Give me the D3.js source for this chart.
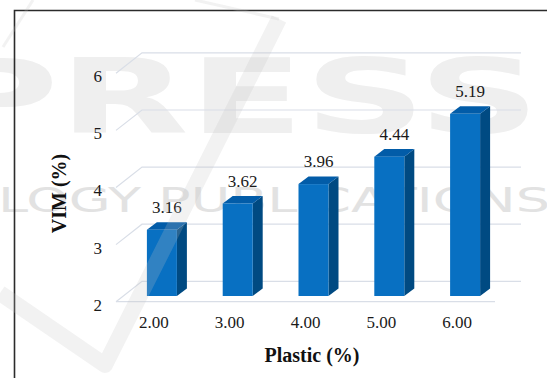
<!DOCTYPE html>
<html>
<head>
<meta charset="utf-8">
<script src="https://cdn.jsdelivr.net/npm/d3@7"></script>
<style>
  html, body { margin: 0; padding: 0; background: #fff; }
  svg { display: block; }
</style>
</head>
<body>
<svg id="chart" width="547" height="378"></svg>
<script>
// VIM (%) against plastic content (%)
const categories = ["2.00", "3.00", "4.00", "5.00", "6.00"];
const vimValues = [3.16, 3.62, 3.96, 4.44, 5.19];
const yTicks = [2, 3, 4, 5, 6];
const xTitle = "Plastic (%)";
const yTitle = "VIM (%)";

const W = 547, H = 378;
const svg = d3.select("#chart");

// floor / wall geometry of the 3-D plot area
const floor = { left: 116, right: 495, front: 301.7, top: 73.3 };
const depth = { dx: 26, dy: -20.4 };          // full depth of the box
const barFront = { dx: 8, dy: -5.7 };         // bars stand a little behind the front edge
const barDepth = { dx: 10, dy: -7.6 };        // depth of each bar
const barWidth = 30;

const x = d3.scaleBand().domain(categories).range([floor.left, floor.right]).padding(0);
const y = d3.scaleLinear().domain([2, 6]).range([floor.front, floor.top]);

const serif = "'Liberation Serif', 'Times New Roman', serif";

// publisher watermark, drawn first and kept faint
const wm = svg.append("g").attr("pointer-events", "none");
wm.append("text")
  .attr("x", -65).attr("y", 133)
  .attr("textLength", 605).attr("lengthAdjust", "spacingAndGlyphs")
  .attr("font-family", "'DejaVu Sans', sans-serif").attr("font-weight", "bold").attr("font-size", 104)
  .attr("fill", "#efefef")
  .text("PRESS");
wm.append("text")
  .attr("x", -2).attr("y", 212)
  .attr("textLength", 552).attr("lengthAdjust", "spacingAndGlyphs")
  .attr("font-family", "'DejaVu Sans', sans-serif").attr("font-size", 34)
  .attr("fill", "#e2e2e2")
  .text("LOGY PUBLICATIONS");

// outer frame
svg.append("path")
  .attr("d", `M14.5,${H + 5} L14.5,10.5 L${W + 5},10.5`)
  .attr("fill", "none").attr("stroke", "#2b2b2b").attr("stroke-width", 1.6);

// gridlines: front edge, diagonal to the back wall, then across the back wall
const grid = svg.append("g").attr("fill", "none").attr("stroke", "#d9dee7").attr("stroke-width", 1.2);
yTicks.forEach(v => {
  const yf = y(v);
  grid.append("path").attr("d",
    `M${floor.left},${yf} L${floor.left + depth.dx},${yf + depth.dy} L${floor.right + depth.dx},${yf + depth.dy}`);
});
grid.append("path").attr("d", `M${floor.left},${y(2)} L${floor.right},${y(2)}`);

// bars as boxes: front, side and top faces
const bars = svg.append("g");
categories.forEach((c, i) => {
  const v = vimValues[i];
  const x0 = x(c) + x.bandwidth() / 2 - barWidth / 2 + barFront.dx;
  const x1 = x0 + barWidth;
  const yT = y(v) + barFront.dy;
  const yB = y(2) + barFront.dy;
  const bx = barDepth.dx, by = barDepth.dy;
  bars.append("path").attr("fill", "#004a82")
    .attr("d", `M${x1},${yT} L${x1 + bx},${yT + by} L${x1 + bx},${yB + by} L${x1},${yB} Z`);
  bars.append("path").attr("fill", "#025ca8")
    .attr("d", `M${x0},${yT} L${x0 + bx},${yT + by} L${x1 + bx},${yT + by} L${x1},${yT} Z`);
  bars.append("rect").attr("fill", "#0870c2")
    .attr("x", x0).attr("y", yT).attr("width", barWidth).attr("height", yB - yT);
  // value label above the bar
  svg.append("text")
    .attr("x", (x0 + x1 + bx) / 2).attr("y", yT + by - 9)
    .attr("text-anchor", "middle")
    .attr("font-family", serif).attr("font-size", 17).attr("fill", "#1a1a1a")
    .text(d3.format(".2f")(v));
});

// y axis labels
const yAxis = svg.append("g")
  .attr("transform", "translate(105,3)")
  .call(d3.axisLeft(y).tickValues(yTicks).tickSize(0).tickPadding(3).tickFormat(d3.format("d")));
yAxis.select(".domain").remove();
yAxis.attr("font-family", serif);
yAxis.selectAll("text").attr("font-family", serif).attr("font-size", 17).attr("fill", "#1a1a1a");

// x axis labels
const xAxis = svg.append("g")
  .attr("transform", `translate(0,${floor.front})`)
  .call(d3.axisBottom(x).tickSize(0).tickPadding(14));
xAxis.select(".domain").remove();
xAxis.attr("font-family", serif);
xAxis.selectAll("text").attr("font-family", serif).attr("font-size", 17).attr("fill", "#1a1a1a");

// axis titles
svg.append("text")
  .attr("transform", "translate(58.5,193.5) rotate(-90)")
  .attr("text-anchor", "middle").attr("dominant-baseline", "central")
  .attr("font-family", serif).attr("font-size", 20).attr("font-weight", "bold").attr("fill", "#111")
  .text(yTitle);
svg.append("text")
  .attr("x", 312).attr("y", 355)
  .attr("text-anchor", "middle").attr("dominant-baseline", "central")
  .attr("font-family", serif).attr("font-size", 20).attr("font-weight", "bold").attr("fill", "#111")
  .text(xTitle);

// watermark check mark, translucent over the bars
const wmStroke = svg.append("g").attr("fill", "none").attr("stroke", "#c4c4c4")
  .attr("stroke-opacity", 0.22).attr("stroke-linejoin", "round").attr("pointer-events", "none");
wmStroke.append("path").attr("d", "M0,293 L105,365 L279,19").attr("stroke-width", 16);
wmStroke.append("path").attr("d", "M195,0 L279,19").attr("stroke-width", 3);
wmStroke.append("path").attr("d", "M33,0 L3,47").attr("stroke-width", 3);
</script>
</body>
</html>
